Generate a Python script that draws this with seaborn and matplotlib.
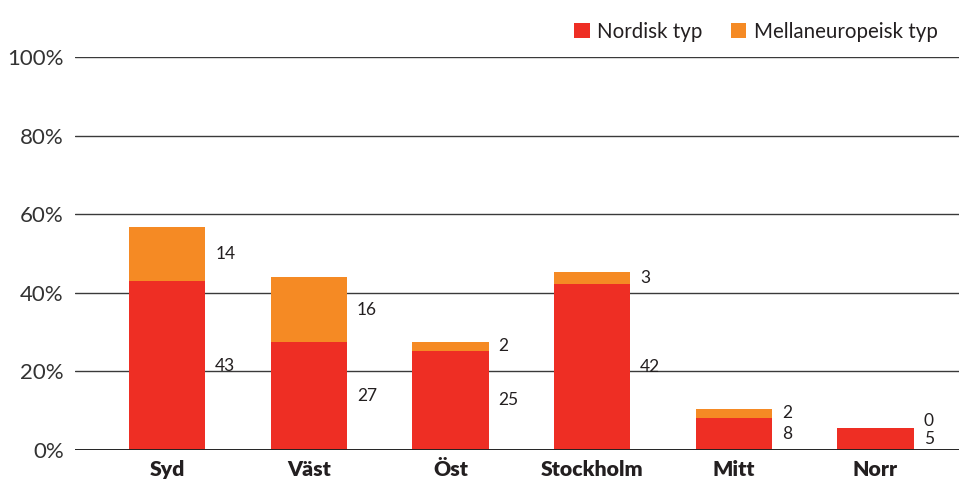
import matplotlib
matplotlib.use("Agg")
import matplotlib.pyplot as plt
import seaborn as sns
import pandas as pd
import numpy as np
from matplotlib.patches import Patch

regions = ["Syd", "Väst", "Öst", "Stockholm", "Mitt", "Norr"]
nordisk = [42.9, 27.6, 25.3, 42.3, 8.2, 5.7]
mellan = [13.9, 16.3, 2.3, 2.9, 2.3, 0.0]
nordisk_labels = ["43", "27", "25", "42", "8", "5"]
mellan_labels = ["14", "16", "2", "3", "2", "0"]
yticks = [0, 20, 40, 60, 80, 100]
ytick_labels = ["0%", "20%", "40%", "60%", "80%", "100%"]
series_names = ["Nordisk typ", "Mellaneuropeisk typ"]

RED = "#EE2E24"
ORANGE = "#F58A24"
TXT = "#231F20"

sns.set_theme(style="white")
plt.rcParams["font.family"] = ["Lato", "DejaVu Sans"]

df = pd.DataFrame({"region": regions, "nordisk": nordisk, "mellan": mellan})
df["total"] = df["nordisk"] + df["mellan"]

fig = plt.figure(figsize=(9.59, 4.82), dpi=100)
ax = fig.add_axes([75 / 959, 32 / 482, 884 / 959, 393 / 482])

sns.barplot(data=df, x="region", y="total", color=ORANGE, saturation=1,
            width=0.54, ax=ax, linewidth=0, zorder=3)
sns.barplot(data=df, x="region", y="nordisk", color=RED, saturation=1,
            width=0.54, ax=ax, linewidth=0, zorder=4)

ax.set_xlim(-0.65, 5.59)
ax.set_ylim(0, 100)
for s in ax.spines.values():
    s.set_visible(False)
for y in yticks[1:]:
    ax.axhline(y, color="#3a3a3a", lw=1.0, zorder=1)
ax.axhline(0, color="#222222", lw=1.4, zorder=5)

ax.set_yticks(yticks)
ax.set_yticklabels(ytick_labels, fontsize=16, color="#333333")
ax.tick_params(axis="y", length=0, pad=8)
ax.tick_params(axis="x", length=0, pad=7)
ax.set_xticks(range(len(regions)))
ax.set_xticklabels(regions, fontsize=15.3, fontweight="heavy", color=TXT)
ax.set_xlabel("")
ax.set_ylabel("")

# value labels to the right of each bar
for i in range(len(regions)):
    xr = i + 0.27 + 0.07
    y_red = nordisk[i] / 2
    y_or = nordisk[i] + mellan[i] / 2
    min_gap = 4.6
    if y_or - y_red < min_gap:
        c = (y_or + y_red) / 2 + 0.8
        y_red, y_or = c - min_gap / 2, c + min_gap / 2
    ax.text(xr, y_red, nordisk_labels[i], ha="left", va="center",
            fontsize=12.5, color=TXT, zorder=6)
    ax.text(xr, y_or, mellan_labels[i], ha="left", va="center",
            fontsize=12.5, color=TXT, zorder=6)

handles = [Patch(facecolor=RED, edgecolor="none"),
           Patch(facecolor=ORANGE, edgecolor="none")]
fig.legend(handles, series_names, loc="upper right",
           bbox_to_anchor=(956 / 959, 1.0 - 3 / 482), ncol=2, frameon=False,
           fontsize=14.8, handlelength=0.75, handleheight=0.75,
           handletextpad=0.35, columnspacing=1.4, labelcolor=TXT)

fig.savefig("out.png", dpi=100)
